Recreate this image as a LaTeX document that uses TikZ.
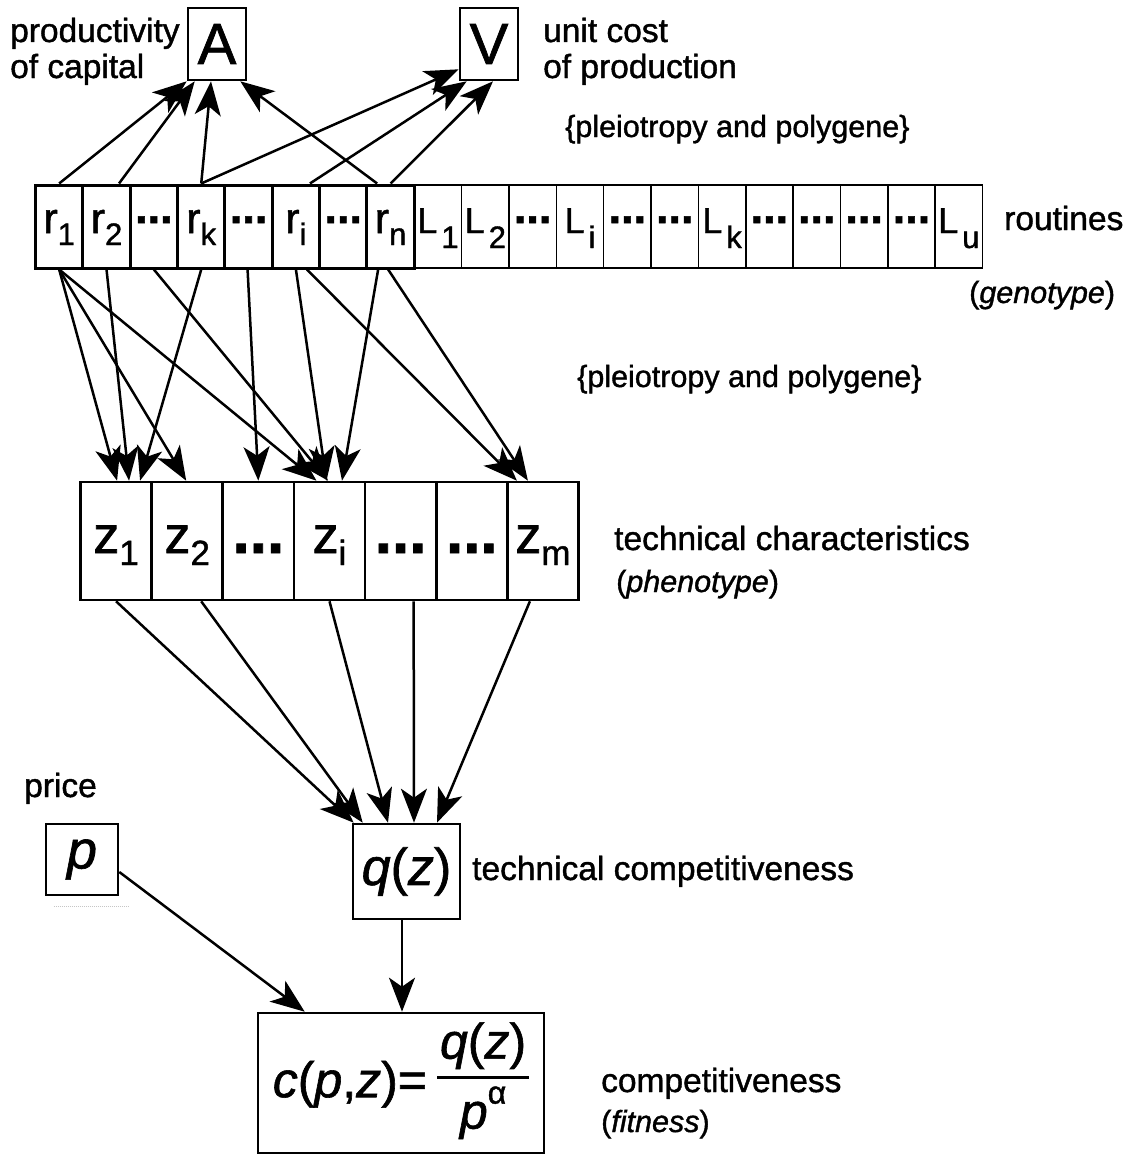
\documentclass[tikz,border=0pt]{standalone}
\usepackage{fontspec}
\setmainfont{Liberation Sans}[FakeBold=1.2]
\usetikzlibrary{arrows.meta,calc}
\newcommand{\fs}[1]{\fontsize{#1}{#1}\selectfont}
\newcommand{\rlab}[2]{{\fs{43}#1\raisebox{-12pt}{\fs{31}#2}}}
\newcommand{\llab}[2]{{\fs{36}L\kern4pt\raisebox{-15pt}{\fs{31}#2}}}
\newcommand{\zlab}[1]{{\fs{52}z\raisebox{-12pt}{\fs{35}#1}}}
\newcommand{\rdots}{\raisebox{10pt}{\fs{45}\bfseries .\kern0pt.\kern0pt.}}
\newcommand{\zdots}{{\fs{62}\bfseries .\kern0pt.\kern0pt.}}
\setlength{\arrayrulewidth}{3pt}
\tikzset{
  arr/.style={line width=2.5pt, -{Stealth[length=34pt,width=26pt,inset=9pt]}},
  box/.style={draw, line width=2.6pt, inner sep=0pt},
  rcell/.style={draw, line width=3pt, minimum width=47.35pt, minimum height=83pt, inner sep=0pt},
  lcell/.style={draw, line width=1.5pt, minimum width=47.35pt, minimum height=83pt, inner sep=0pt},
  zcell/.style={draw, line width=2.6pt, minimum width=71.14pt, minimum height=118pt, inner sep=0pt},
  txt/.style={anchor=base west, inner sep=0pt, font=\fs{33.5}},
  stxt/.style={anchor=base west, inner sep=0pt, font=\fs{30.5}},
  lab/.style={anchor=base, inner sep=0pt},
}
\begin{document}
\begin{tikzpicture}[x=1pt,y=-1pt]
\useasboundingbox (0,0) rectangle (1128,1156);

% top boxes
\node[box, minimum width=58pt, minimum height=72pt] (A) at (217,44) {\fs{58}A};
\node[box, minimum width=58pt, minimum height=72pt] (V) at (489,44) {\fs{58}V};
\node[txt] (t1) at (10,42) {productivity};
\node[txt] (t2) at (10,78) {of capital};
\node[txt] (t3) at (543,42) {unit cost};
\node[txt] (t4) at (543,78) {of production};
\node[stxt] (t5) at (565,137) {\{pleiotropy and polygene\}};

% routines row
\foreach \i in {9,...,20} {
  \pgfmathsetmacro\xx{35.5+47.35*(\i-0.5)}
  \node[lcell] (c\i) at (\xx,226.5) {};
}
\foreach \i in {1,...,8} {
  \pgfmathsetmacro\xx{35.5+47.35*(\i-0.5)}
  \node[rcell] (c\i) at (\xx,226.5) {};
}
\foreach \i/\t in {1/\rlab{r}{1},2/\rlab{r}{2},3/\rdots,4/\rlab{r}{k},5/\rdots,6/\rlab{r}{i},7/\rdots,8/\rlab{r}{n},
  9/\llab{L}{1},10/\llab{L}{2},11/\rdots,12/\llab{L}{i},13/\rdots,14/\rdots,15/\llab{L}{k},16/\rdots,17/\rdots,18/\rdots,19/\rdots,20/\llab{L}{u}} {
  \node[lab] (l\i) at ([yshift=-6.5pt]c\i.center) {\t};
}
\node[txt] (t6) at (1004,230) {routines};
\node[stxt] (t7) at (969,303) {(\textit{genotype})};
\node[stxt] (t8) at (577,387) {\{pleiotropy and polygene\}};

% z row
\foreach \i in {1,...,7} {
  \pgfmathsetmacro\xx{80.5+71.14*(\i-0.5)}
  \node[zcell] (z\i) at (\xx,541) {};
}
\foreach \i/\t in {1/\zlab{1},2/\zlab{2},3/\zdots,4/\zlab{i},5/\zdots,6/\zdots,7/\zlab{m}} {
  \node[lab] (m\i) at ([yshift=-12pt]z\i.center) {\t};
}
\node[txt] (t9) at (614,550) {technical characteristics};
\node[stxt] (t10) at (616,592) {(\textit{phenotype})};

% bottom boxes
\node[txt] (t11) at (24,797) {price};
\node[box, minimum width=72pt, minimum height=71pt] (p) at (82,859.5) {\fs{54}\textit{p}};
\node[box, minimum width=107pt, minimum height=95pt] (q) at (406.5,871.5) {\fs{52}\textit{q}(\textit{z})};
\node[txt] (t12) at (472,880) {technical competitiveness};
\node[box, minimum width=286pt, minimum height=140pt] (c) at (401,1083)
  {\fs{50}\raisebox{-8pt}{\textit{c}(\textit{p},\textit{z})=}\kern10pt\begin{tabular}{@{\kern3pt}c@{\kern3pt}}\textit{q}(\textit{z})\rule[-19pt]{0pt}{0pt}\\[-2pt]\hline
   \rule{0pt}{50pt}\textit{p}\raisebox{25pt}{\fs{32}α}\end{tabular}};
\node[txt] (t13) at (601,1092) {competitiveness};
\node[stxt] (t14) at (601,1132) {(\textit{fitness})};
\draw[gray!45, line width=0.6pt, dash pattern=on 1pt off 1pt] ($(p.south west)+(9,10)$) -- ($(p.south east)+(10,10)$);

% routines -> A, V
\draw[arr] (c1.north) -- (A.south west);
\draw[arr] ($(c2.north)+(12.5,0)$) -- ($(A.south west)+(8,0)$);
\draw[arr] (c4.north) -- ($(A.south)+(-6,0)$);
\draw[arr] ($(c8.north)+(-13.5,0)$) -- ($(A.south east)+(-7,0)$);
\draw[arr] (c4.north) -- ($(V.south west)+(0,-12)$);
\draw[arr] ($(c6.north)+(14,0)$) -- ($(V.south west)+(8,0)$);
\draw[arr] (c8.north) -- ($(V.south)+(4,0)$);

% routines -> z
\draw[arr] (c1.south) -- ($(z1.north)+(1,0)$);
\draw[arr] (c1.south) -- ($(z2.north)+(-1,0)$);
\draw[arr] (c1.south) -- ($(z4.north)+(-13,0)$);
\draw[arr] (c2.south) -- ($(z1.north)+(13,0)$);
\draw[arr] (c3.south) -- ($(z4.north)+(-1.5,0)$);
\draw[arr] (c4.south) -- ($(z1.north)+(24,0)$);
\draw[arr] ($(c5.south)+(-1,0)$) -- (z3.north);
\draw[arr] (c6.south) -- ($(z4.north)+(-3,0)$);
\draw[arr] ($(c6.south)+(11,0)$) -- ($(z7.north)+(-26,0)$);
\draw[arr] ($(c8.south)+(-12.5,0)$) -- ($(z4.north)+(12.5,0)$);
\draw[arr] ($(c8.south)+(-2.5,0)$) -- ($(z7.north)+(-15,0)$);

% z -> q
\draw[arr] (z1.south) -- ($(q.north west)+(2,0)$);
\draw[arr] ($(z2.south)+(14,0)$) -- ($(q.north west)+(11,0)$);
\draw[arr] (z4.south) -- ($(q.north)+(-18.5,0)$);
\draw[arr] ($(z5.south)+(13,0)$) -- ($(q.north)+(7.5,0)$);
\draw[arr] ($(z7.south)+(-13,0)$) -- ($(q.north)+(30.5,0)$);

% q, p -> c
\coordinate (qs) at ($(q.south)+(-4.5,0)$);
\draw[arr] (qs) -- (qs |- c.north);
\draw[arr] ($(p.east)+(0,12.5)$) -- ($(c.north west)+(48,0)$);
\end{tikzpicture}
\end{document}
